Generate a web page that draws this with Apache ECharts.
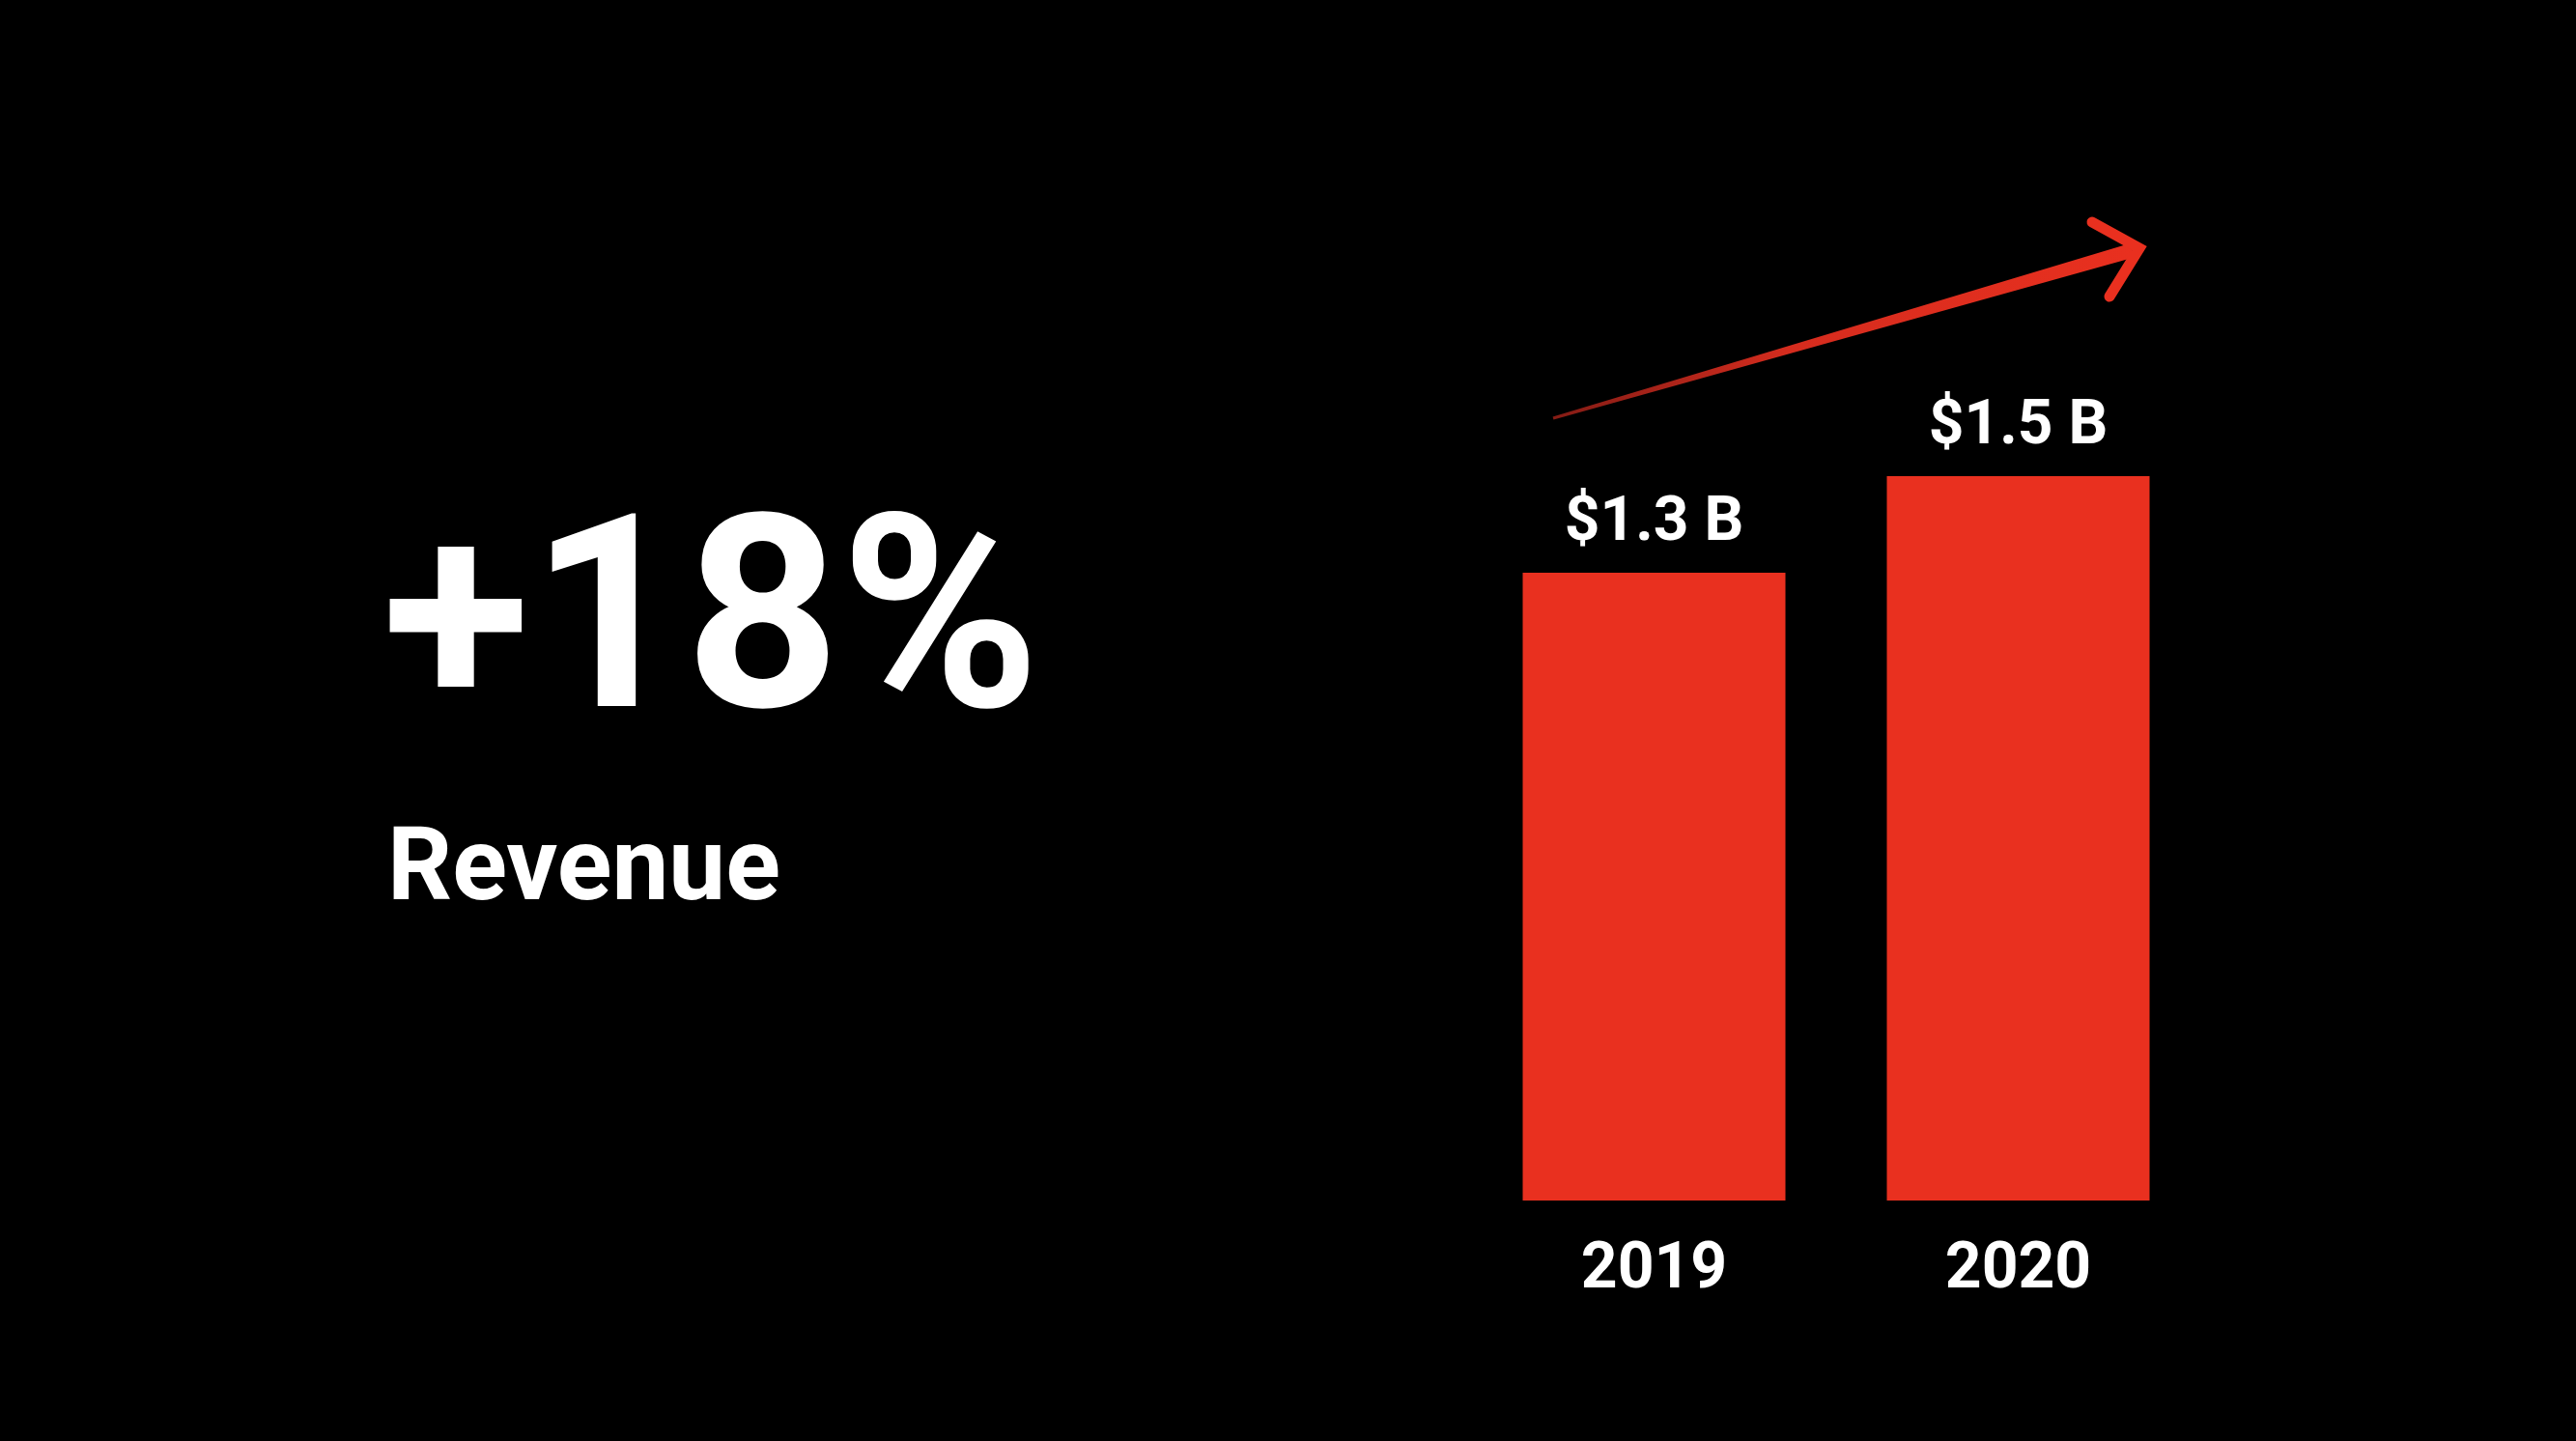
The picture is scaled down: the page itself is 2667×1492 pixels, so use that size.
<!DOCTYPE html>
<html>
<head>
<meta charset="utf-8">
<script src="https://cdn.jsdelivr.net/npm/echarts@6/dist/echarts.min.js"></script>
<style>
html,body{margin:0;padding:0;background:#000;}
#chart{width:2667px;height:1492px;}
</style>
</head>
<body>
<div id="chart"></div>
<script>
const years = ['2019', '2020'];
const revenue = [1.3, 1.5];
const revenueLabels = ['$1.3 B', '$1.5 B'];
const headline = '+18%';
const subtitle = 'Revenue';

const RED = '#E9301F';
const chart = echarts.init(document.getElementById('chart'));

// arrow geometry (decoration)
const S = [1608, 433], T = [2215, 257];
const dx = T[0] - S[0], dy = T[1] - S[1], L = Math.hypot(dx, dy);
const u = [dx / L, dy / L], n = [-u[1], u[0]];
const E = [T[0] - u[0] * 8, T[1] - u[1] * 8];
const w0 = 1.5, w1 = 7.5;
const shaft = [
  [S[0] + n[0] * w0, S[1] + n[1] * w0],
  [E[0] + n[0] * w1, E[1] + n[1] * w1],
  [E[0] - n[0] * w1, E[1] - n[1] * w1],
  [S[0] - n[0] * w0, S[1] - n[1] * w0]
];

chart.setOption({
  backgroundColor: '#000',
  animation: false,
  grid: { left: 1524, width: 754, top: 493, bottom: 1492 - 1243 },
  xAxis: {
    type: 'category',
    data: years,
    axisLine: { show: false },
    axisTick: { show: false },
    axisLabel: {
      color: '#fff',
      fontFamily: 'Roboto',
      fontWeight: 'bold',
      fontSize: 66,
      margin: 40
    }
  },
  yAxis: {
    type: 'value',
    min: 0,
    max: 1.5,
    show: false,
    splitLine: { show: false }
  },
  series: [{
    type: 'bar',
    data: revenue,
    barWidth: 272,
    itemStyle: { color: RED },
    label: {
      show: true,
      position: 'top',
      distance: 18,
      color: '#fff',
      fontFamily: 'Roboto',
      fontWeight: 'bold',
      fontSize: 64,
      formatter: p => revenueLabels[p.dataIndex]
    }
  }],
  graphic: [
    {
      type: 'text',
      left: 396,
      top: 521,
      style: {
        text: headline,
        fill: '#fff',
        font: 'bold 280px Roboto'
      }
    },
    {
      type: 'text',
      left: 401,
      top: 852,
      style: {
        text: subtitle,
        fill: '#fff',
        font: 'bold 105px Roboto'
      }
    },
    {
      type: 'polygon',
      shape: { points: shaft },
      style: {
        fill: new echarts.graphic.LinearGradient(S[0], S[1], T[0], T[1], [
          { offset: 0, color: 'rgba(190,40,30,0.7)' },
          { offset: 0.4, color: '#D52C1E' },
          { offset: 1, color: RED }
        ], true)
      }
    },
    {
      type: 'polyline',
      shape: { points: [[2166, 230], [T[0], T[1]], [2184, 307]] },
      style: { stroke: RED, lineWidth: 11, fill: null, lineCap: 'round', lineJoin: 'miter' }
    }
  ]
});
</script>
</body>
</html>
